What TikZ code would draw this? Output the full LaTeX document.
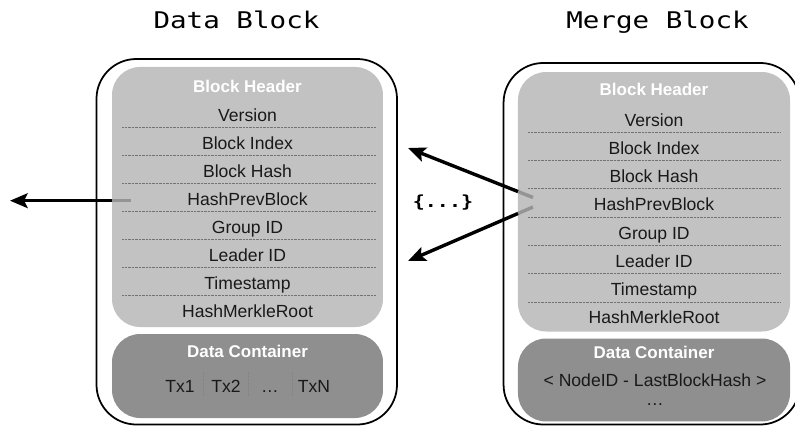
\documentclass[tikz,border=0pt]{standalone}
\usepackage{fontspec}
\setmainfont{Liberation Sans}
\newfontfamily\codefont[FakeStretch=1.2]{DejaVu Sans Mono}
\usetikzlibrary{arrows.meta,calc}
\definecolor{hdrgray}{gray}{0.76}
\definecolor{datgray}{gray}{0.56}
\definecolor{sepgray}{gray}{0.45}
\definecolor{txtgray}{gray}{0.1}

\begin{document}
\begin{tikzpicture}[x=0.3mm, y=0.3mm, blk/.style={draw, line width=1.5pt, rounded corners=34pt, inner sep=0pt}, hdr/.style={fill=hdrgray, rounded corners=24pt, inner sep=0pt}, dat/.style={fill=datgray, rounded corners=24pt, inner sep=0pt}, fld/.style={font=\fontsize{15}{18}\selectfont, text=txtgray, text height=10.7pt, text depth=0pt, inner sep=0pt}, wht/.style={font=\bfseries\fontsize{14.5}{17}\selectfont, text=white, text height=10.4pt, text depth=0pt, inner sep=0pt}, ttl/.style={font=\codefont\fontsize{19.6}{23}\selectfont, anchor=base, inner sep=0pt}, sep/.style={sepgray, line width=0.5pt, dash pattern=on 0.5pt off 0.7pt}, txsep/.style={gray, line width=0.6pt, dash pattern=on 0.8pt off 1pt}, ptr/.style={line width=2.9pt, -{Stealth[length=15pt, width=12.5pt, inset=3pt]}}, stub/.style={line width=2.9pt, draw=black!42}]

\useasboundingbox (0,0) rectangle (795,427);
\clip (0,0) rectangle (795,427);

\node[ttl] (dtitle) at (236.5,398.7) {Data Block};
\node[ttl] (mtitle) at (657.5,398.7) {Merge Block};

\node[blk, minimum width=256.5pt, minimum height=312pt] (dblock) at (246.75,185.25) {};
\node[hdr, minimum width=231.3pt, minimum height=222pt] (dhead) at (247.5,230) {};
\node[dat, minimum width=231.3pt, minimum height=71.7pt] (ddata) at (247.5,51) {};

\node[blk, minimum width=253pt, minimum height=308.6pt] (mblock) at (651.75,183.25) {};
\node[hdr, minimum width=232.2pt, minimum height=221.5pt] (mhead) at (654,225.25) {};
\node[dat, minimum width=232.2pt, minimum height=70.8pt] (mdata) at (654,47) {};

\node[wht] (dhtitle) at (247.5,340.7) {Block Header};
\foreach \f [count=\i from 0] in {Version, Block Index, Block Hash, HashPrevBlock, Group ID, Leader ID, Timestamp, HashMerkleRoot}
  \node[fld] (d\i) at (247.5,312-28*\i) {\f};
\foreach \i in {0,...,6}
  \draw[sep] (122,299.5-28*\i) -- (376,299.5-28*\i);

\node[wht] (ddtitle) at (247.5,76) {Data Container};
\node[fld] (tx1) at (180,40.5) {Tx1};
\node[fld] (tx2) at (226,40.5) {Tx2};
\node[fld] (txd) at (270,40.5) {…};
\node[fld] (txn) at (314,40.5) {TxN};
\foreach \x in {203,248,292}
  \draw[txsep] (\x,55) -- (\x,30);

\node[wht] (mhtitle) at (654,337.5) {Block Header};
\foreach \f [count=\i from 0] in {Version, Block Index, Block Hash, HashPrevBlock, Group ID, Leader ID, Timestamp, HashMerkleRoot}
  \node[fld] (m\i) at (654,307.2-28.25*\i) {\f};
\foreach \i in {0,...,6}
  \draw[sep] (528,295-28.3*\i) -- (781,295-28.3*\i);

\node[wht] (mdtitle) at (654,74.2) {Data Container};
\node[fld] (mpair) at (655,47) {< NodeID - LastBlockHash >};
\node[fld] (mmore) at (655,28) {…};

\node[font=\codefont\bfseries\fontsize{14.2}{17}\selectfont] (gap) at (443,224) {\{...\}};

\coordinate (dsrc) at (131,226.3);
\coordinate (dedge) at (112,226.3);
\coordinate (dtip) at (10,226.3);
\draw[stub] (dsrc) -- (dedge);
\draw[ptr] (dedge) -- (dtip);

\coordinate (msrc1) at (533,229.5);
\coordinate (mtip1) at (408,279);
\coordinate (medge1) at ($(msrc1)!0.12!(mtip1)$);
\draw[stub] (msrc1) -- (medge1);
\draw[ptr] (medge1) -- (mtip1);

\coordinate (msrc2) at (533,220);
\coordinate (mtip2) at (408,166);
\coordinate (medge2) at ($(msrc2)!0.12!(mtip2)$);
\draw[stub] (msrc2) -- (medge2);
\draw[ptr] (medge2) -- (mtip2);
\end{tikzpicture}
\end{document}
